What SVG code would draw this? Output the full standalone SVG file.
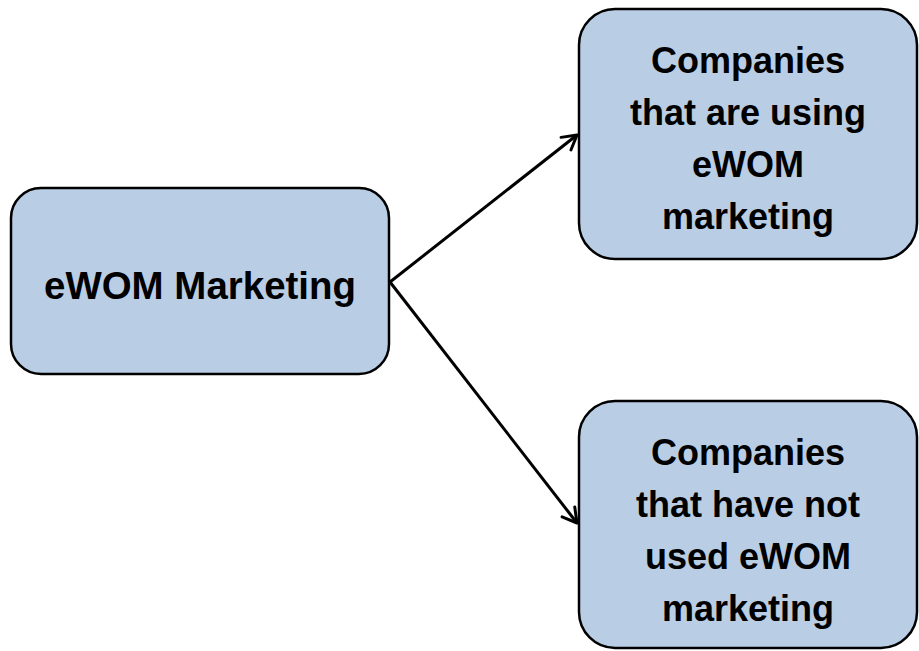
<svg xmlns="http://www.w3.org/2000/svg" width="919" height="651" viewBox="0 0 919 651">
<style>
.box{fill:#B9CDE5;stroke:#000;stroke-width:2.5}
.t{font-family:"Liberation Sans",Arial,sans-serif;font-weight:bold;font-size:36px;fill:#000;text-anchor:middle}
.c{stroke:#000;stroke-width:3;fill:none}
</style>
<defs>
<marker id="ah" viewBox="0 0 20 20" refX="18" refY="10" markerWidth="20" markerHeight="20" markerUnits="userSpaceOnUse" orient="auto">
<polyline points="4,2 18,10 4,18" fill="none" stroke="#000" stroke-width="3" stroke-linecap="round" stroke-linejoin="round"/>
</marker>
</defs>
<g id="connectors">
<line class="c" x1="390" y1="282" x2="577" y2="135" marker-end="url(#ah)"/>
<line class="c" x1="390" y1="282" x2="577" y2="523" marker-end="url(#ah)"/>
</g>
<g id="node-ewom">
<rect class="box" x="11" y="188" width="378" height="186" rx="30" ry="30"/>
<text class="t" x="200" y="299" style="font-size:38px" textLength="312" lengthAdjust="spacingAndGlyphs">eWOM Marketing</text>
</g>
<g id="node-using">
<rect class="box" x="579" y="9" width="338" height="250" rx="36" ry="36"/>
<text class="t" x="748" y="73">Companies</text>
<text class="t" x="748" y="125">that are using</text>
<text class="t" x="748" y="177">eWOM</text>
<text class="t" x="748" y="229">marketing</text>
</g>
<g id="node-notused">
<rect class="box" x="579" y="401" width="338" height="247" rx="36" ry="36"/>
<text class="t" x="748" y="465">Companies</text>
<text class="t" x="748" y="517">that have not</text>
<text class="t" x="748" y="569">used eWOM</text>
<text class="t" x="748" y="621">marketing</text>
</g>
</svg>
